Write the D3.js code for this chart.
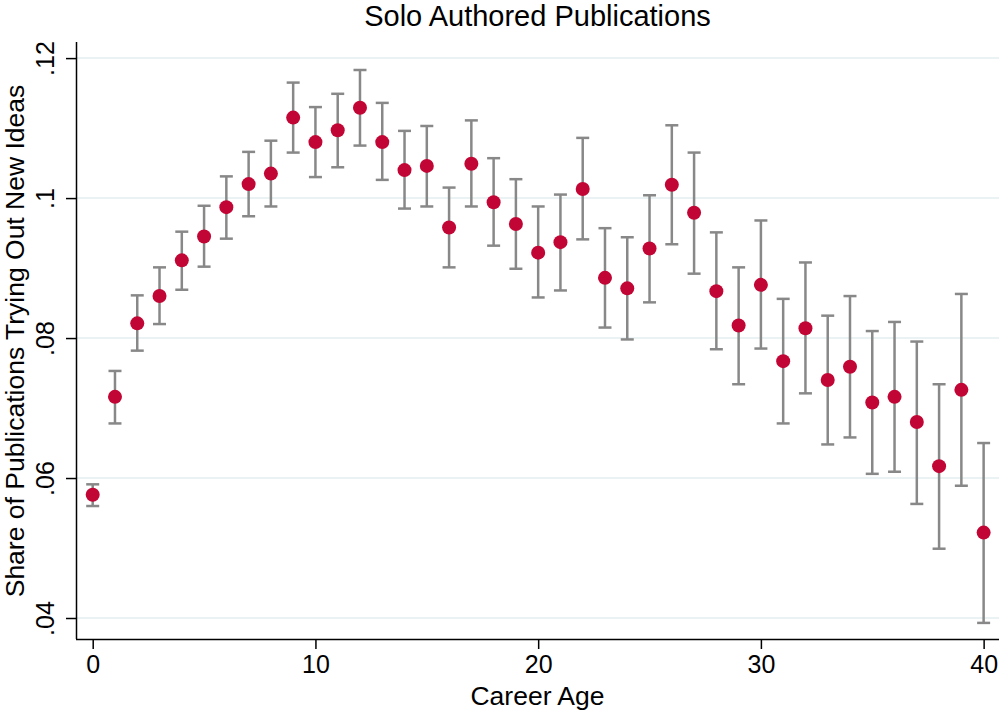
<!DOCTYPE html>
<html>
<head>
<meta charset="utf-8">
<script src="https://cdn.jsdelivr.net/npm/d3@7"></script>
<style>
  body { margin: 0; background: #fff; }
  text { font-family: "Liberation Sans", Arial, sans-serif; fill: #000; }
</style>
</head>
<body>
<div id="chart"></div>
<script>
// career age 0..40
var ages = d3.range(0, 41);
var share = [0.0576, 0.0716, 0.0821, 0.0860, 0.0911, 0.0945, 0.0987, 0.1020, 0.1035, 0.1115,
  0.1080, 0.1097, 0.1129, 0.1080, 0.1040, 0.1046, 0.0958, 0.1049, 0.0994, 0.0963,
  0.0922, 0.0937, 0.1013, 0.0886, 0.0871, 0.0928, 0.1019, 0.0979, 0.0867, 0.0818,
  0.0876, 0.0767, 0.0814, 0.0740, 0.0759, 0.0708, 0.0716, 0.0680, 0.0617, 0.0726,
  0.0522];
var upper = [0.0591, 0.0753, 0.0861, 0.0901, 0.0952, 0.0989, 0.1031, 0.1066, 0.1082, 0.1165,
  0.1130, 0.1149, 0.1183, 0.1136, 0.1096, 0.1103, 0.1015, 0.1111, 0.1057, 0.1027,
  0.0988, 0.1005, 0.1086, 0.0957, 0.0944, 0.1004, 0.1104, 0.1065, 0.0951, 0.0901,
  0.0968, 0.0856, 0.0908, 0.0832, 0.0860, 0.0810, 0.0823, 0.0795, 0.0734, 0.0863,
  0.0650];
var lower = [0.0560, 0.0678, 0.0782, 0.0820, 0.0869, 0.0902, 0.0942, 0.0974, 0.0988, 0.1065,
  0.1030, 0.1044, 0.1075, 0.1026, 0.0985, 0.0988, 0.0901, 0.0988, 0.0932, 0.0899,
  0.0858, 0.0868, 0.0941, 0.0815, 0.0798, 0.0851, 0.0934, 0.0892, 0.0784, 0.0734,
  0.0785, 0.0678, 0.0721, 0.0648, 0.0658, 0.0606, 0.0609, 0.0563, 0.0499, 0.0589,
  0.0393];
var xTicks = [0, 10, 20, 30, 40];
var yTicks = [0.04, 0.06, 0.08, 0.10, 0.12];
var yTickLabels = ['.04', '.06', '.08', '.1', '.12'];

var width = 999, height = 711;
var margin = {top: 42, right: 0, bottom: 72, left: 76};

var svg = d3.select('#chart').append('svg')
    .attr('width', width)
    .attr('height', height);

var x = d3.scaleLinear()
    .domain([-0.75, 40.69])
    .range([margin.left, width - margin.right]);
var y = d3.scaleLinear()
    .domain([0.037, 0.1223])
    .range([height - margin.bottom, margin.top]);

// grid lines
svg.append('g').selectAll('line')
    .data(yTicks)
    .join('line')
    .attr('x1', margin.left + 1)
    .attr('x2', width - margin.right)
    .attr('y1', d => y(d))
    .attr('y2', d => y(d))
    .attr('stroke', '#eaf2f3')
    .attr('stroke-width', 2);

// y axis
var yAxis = svg.append('g')
    .attr('transform', 'translate(' + margin.left + ',0)')
    .call(d3.axisLeft(y).tickValues(yTicks).tickSize(10).tickPadding(0)
        .tickFormat((d, i) => yTickLabels[i]));
yAxis.select('.domain').attr('stroke', '#000').attr('stroke-width', 1.5)
    .attr('d', 'M0.5,' + margin.top + 'V' + (height - margin.bottom));
yAxis.selectAll('.tick line').attr('stroke', '#000').attr('stroke-width', 1.5);
yAxis.selectAll('.tick text')
    .attr('font-size', 25)
    .attr('text-anchor', 'middle')
    .attr('x', 0)
    .attr('dy', 0)
    .attr('transform', 'translate(-22,0) rotate(-90)');

// x axis
var xAxis = svg.append('g')
    .attr('transform', 'translate(0,' + (height - margin.bottom) + ')')
    .call(d3.axisBottom(x).tickValues(xTicks).tickSize(10).tickPadding(6));
xAxis.select('.domain').attr('stroke', '#000').attr('stroke-width', 1.5)
    .attr('d', 'M' + margin.left + ',0.5H' + (width - margin.right));
xAxis.selectAll('.tick line').attr('stroke', '#000').attr('stroke-width', 1.5);
xAxis.selectAll('.tick text').attr('font-size', 25);

// error bars
var bars = svg.append('g').selectAll('g')
    .data(ages)
    .join('g');
bars.append('line')
    .attr('x1', d => x(d)).attr('x2', d => x(d))
    .attr('y1', (d, i) => y(upper[i])).attr('y2', (d, i) => y(lower[i]))
    .attr('stroke', '#888888').attr('stroke-width', 2.5);
bars.append('line')
    .attr('x1', d => x(d) - 6.5).attr('x2', d => x(d) + 6.5)
    .attr('y1', (d, i) => y(upper[i])).attr('y2', (d, i) => y(upper[i]))
    .attr('stroke', '#888888').attr('stroke-width', 2.5);
bars.append('line')
    .attr('x1', d => x(d) - 6.5).attr('x2', d => x(d) + 6.5)
    .attr('y1', (d, i) => y(lower[i])).attr('y2', (d, i) => y(lower[i]))
    .attr('stroke', '#888888').attr('stroke-width', 2.5);

// points
svg.append('g').selectAll('circle')
    .data(ages)
    .join('circle')
    .attr('cx', d => x(d))
    .attr('cy', (d, i) => y(share[i]))
    .attr('r', 7)
    .attr('fill', '#c10534');

// titles
svg.append('text')
    .attr('x', (margin.left + width) / 2)
    .attr('y', 26)
    .attr('text-anchor', 'middle')
    .attr('font-size', 29)
    .text('Solo Authored Publications');

svg.append('text')
    .attr('x', (margin.left + width) / 2)
    .attr('y', 705)
    .attr('text-anchor', 'middle')
    .attr('font-size', 26.5)
    .text('Career Age');

svg.append('text')
    .attr('transform', 'translate(24,' + 341 + ') rotate(-90)')
    .attr('text-anchor', 'middle')
    .attr('font-size', 26.5)
    .text('Share of Publications Trying Out New Ideas');
</script>
</body>
</html>
